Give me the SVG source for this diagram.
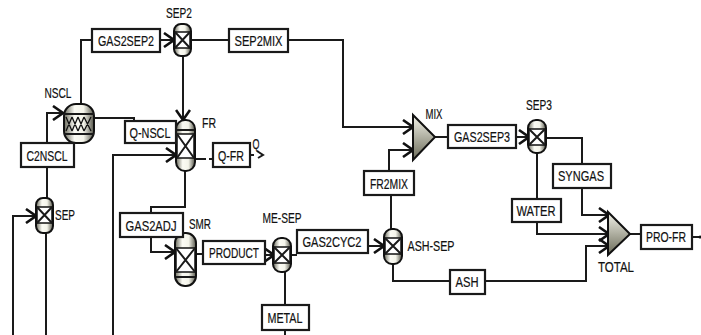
<svg xmlns="http://www.w3.org/2000/svg" width="701" height="335" viewBox="0 0 701 335">
<style>
.b{fill:#fff;stroke:#1a1a1a;stroke-width:2.2}
.l{fill:none;stroke:#1a1a1a;stroke-width:2}
.v{fill:url(#g);stroke:#111;stroke-width:2}
.m{fill:#fff;stroke:#111;stroke-width:1.5}
text{font-family:"Liberation Sans",Arial,sans-serif;font-size:14px;fill:#111;text-anchor:middle;stroke:#111;stroke-width:.2}
</style>
<defs>
<linearGradient id="g" x1="0" x2="1" y1="0" y2="0"><stop offset="0" stop-color="#6a6a5c"/><stop offset=".35" stop-color="#fbfbf4"/><stop offset=".65" stop-color="#f4f4ea"/><stop offset="1" stop-color="#55554a"/></linearGradient>
<linearGradient id="t" x1="0" x2="0" y1="0" y2="1"><stop offset="0" stop-color="#f4f4ea"/><stop offset="1" stop-color="#6a6a58"/></linearGradient>
<marker id="h" markerWidth="14" markerHeight="16" refX="12" refY="8" orient="auto" markerUnits="userSpaceOnUse"><path d="M2 1L12 8L2 15" fill="none" stroke="#111" stroke-width="2.6"/></marker>
</defs>
<rect width="701" height="335" fill="#fff"/>
<g id="connectors">
<path class="l" d="M81 104V40H92"/>
<path class="l" marker-end="url(#h)" d="M160 40H174"/>
<path class="l" d="M191 40H229"/>
<path class="l" marker-end="url(#h)" d="M288 40H343V127H413"/>
<path class="l" marker-end="url(#h)" d="M183 56V120"/>
<path class="l" marker-end="url(#h)" d="M47 143V113H63"/>
<path class="l" d="M47 167V199"/>
<path class="l" marker-end="url(#h)" d="M13 335V216H36"/>
<path class="l" d="M46 233V335"/>
<path class="l" d="M94 118H134V121"/>
<path class="l" marker-end="url(#h)" d="M113 335V155H176"/>
<path class="l" d="M195 159H206M209 159H213"/>
<path class="l" d="M250 155H254"/>
<path class="l" d="M257 151L263 155L258 158"/>
<path class="l" d="M185 171V207H151V213"/>
<path class="l" marker-end="url(#h)" d="M151 237V252H175"/>
<path class="l" d="M196 254H203"/>
<path class="l" marker-end="url(#h)" d="M265 255H274"/>
<path class="l" d="M291 255H297"/>
<path class="l" d="M285 272V305M285 330V335"/>
<path class="l" marker-end="url(#h)" d="M368 246H384"/>
<path class="l" d="M391 229V195"/>
<path class="l" marker-end="url(#h)" d="M389 171V150H413"/>
<path class="l" d="M435 137H448"/>
<path class="l" marker-end="url(#h)" d="M516 137H529"/>
<path class="l" d="M546 138H582V164"/>
<path class="l" marker-end="url(#h)" d="M582 188V215H609"/>
<path class="l" d="M537 153V199"/>
<path class="l" marker-end="url(#h)" d="M537 222V234H609"/>
<path class="l" d="M393 264V281H450"/>
<path class="l" marker-end="url(#h)" d="M485 281H586V246H609"/>
<path class="l" d="M630 234H641"/>
<path class="l" d="M692 237H700"/>
<circle cx="700" cy="237" r="1.5" fill="#111"/>
</g>
<g id="NSCL"><rect class="v" x="64" y="104" width="30" height="39" rx="12"/><path class="l" d="M64 114H94M64 134H94"/><path d="M66 117L72 131M72 117L66 131M72 117L78 131M78 117L72 131M78 117L84 131M84 117L78 131M84 117L91 131M91 117L84 131" stroke="#111" stroke-width="1.3" fill="none"/><text x="58" y="98" textLength="27" lengthAdjust="spacingAndGlyphs">NSCL</text></g>
<g id="SEP2"><rect class="v" x="174" y="24" width="17" height="32" rx="7"/><rect class="m" x="175" y="32" width="15" height="16"/><path class="l" d="M175 32L190 48M190 32L175 48"/><text x="179" y="18" textLength="26" lengthAdjust="spacingAndGlyphs">SEP2</text></g>
<g id="FR"><rect class="v" x="176" y="120" width="19" height="51" rx="9"/><rect class="m" x="177" y="134" width="17" height="24"/><path class="l" d="M177 134L194 158M194 134L177 158M177 130H194"/><text x="209" y="128" textLength="14" lengthAdjust="spacingAndGlyphs">FR</text></g>
<g id="SEP"><rect class="v" x="36" y="198" width="17" height="35" rx="7"/><rect class="m" x="37" y="207" width="15" height="16"/><path class="l" d="M37 207L52 223M52 207L37 223"/><text x="65" y="220" textLength="20" lengthAdjust="spacingAndGlyphs">SEP</text></g>
<g id="SMR"><rect class="v" x="175" y="233" width="21" height="53" rx="10"/><rect class="m" x="176" y="248" width="19" height="24"/><path class="l" d="M176 248L195 272M195 248L176 272M176 277H195"/><text x="200" y="229" textLength="22" lengthAdjust="spacingAndGlyphs">SMR</text></g>
<g id="ME-SEP"><rect class="v" x="273" y="238" width="18" height="34" rx="8"/><rect class="m" x="274" y="247" width="16" height="16"/><path class="l" d="M274 247L290 263M290 247L274 263"/><text x="282" y="223" textLength="39" lengthAdjust="spacingAndGlyphs">ME-SEP</text></g>
<g id="ASH-SEP"><rect class="v" x="384" y="229" width="18" height="35" rx="8"/><rect class="m" x="385" y="238" width="16" height="16"/><path class="l" d="M385 238L401 254M401 238L385 254"/><text x="431" y="251" textLength="47" lengthAdjust="spacingAndGlyphs">ASH-SEP</text></g>
<g id="MIX"><path d="M413 115V160L435 137Z" fill="url(#t)" stroke="#111" stroke-width="2"/><text x="434" y="119" textLength="17" lengthAdjust="spacingAndGlyphs">MIX</text></g>
<g id="SEP3"><rect class="v" x="528" y="120" width="18" height="33" rx="8"/><rect class="m" x="529" y="129" width="16" height="16"/><path class="l" d="M529 129L545 145M545 129L529 145"/><text x="539" y="110" textLength="26" lengthAdjust="spacingAndGlyphs">SEP3</text></g>
<g id="TOTAL"><path d="M608 212V255L630 234Z" fill="url(#t)" stroke="#111" stroke-width="2"/><text x="616" y="272" textLength="36" lengthAdjust="spacingAndGlyphs">TOTAL</text></g>
<g id="S-GAS2SEP2"><rect class="b" x="92" y="29" width="68" height="23"/><text x="126" y="46" textLength="56" lengthAdjust="spacingAndGlyphs">GAS2SEP2</text></g>
<g id="S-SEP2MIX"><rect class="b" x="229" y="29" width="59" height="23"/><text x="258.500" y="46" textLength="48" lengthAdjust="spacingAndGlyphs">SEP2MIX</text></g>
<g id="S-C2NSCL"><rect class="b" x="21" y="143" width="53" height="24"/><text x="47" y="161" textLength="41" lengthAdjust="spacingAndGlyphs">C2NSCL</text></g>
<g id="S-Q-NSCL"><rect class="b" x="125" y="121" width="51" height="22"/><text x="150" y="138" textLength="41" lengthAdjust="spacingAndGlyphs">Q-NSCL</text></g>
<g id="S-Q-FR"><rect class="b" x="213" y="143" width="37" height="24"/><text x="231" y="161" textLength="26" lengthAdjust="spacingAndGlyphs">Q-FR</text></g>
<text x="256" y="149" textLength="7" lengthAdjust="spacingAndGlyphs">Q</text>
<g id="S-GAS2ADJ"><rect class="b" x="120" y="213" width="63" height="24"/><text x="151" y="231" textLength="51" lengthAdjust="spacingAndGlyphs">GAS2ADJ</text></g>
<g id="S-PRODUCT"><rect class="b" x="203" y="241" width="62" height="23"/><text x="234" y="258" textLength="50" lengthAdjust="spacingAndGlyphs">PRODUCT</text></g>
<g id="S-GAS2CYC2"><rect class="b" x="297" y="230" width="71" height="23"/><text x="332" y="247" textLength="59" lengthAdjust="spacingAndGlyphs">GAS2CYC2</text></g>
<g id="S-METAL"><rect class="b" x="262" y="305" width="47" height="25"/><text x="285" y="323" textLength="35" lengthAdjust="spacingAndGlyphs">METAL</text></g>
<g id="S-FR2MIX"><rect class="b" x="364" y="171" width="50" height="24"/><text x="389" y="189" textLength="38" lengthAdjust="spacingAndGlyphs">FR2MIX</text></g>
<g id="S-GAS2SEP3"><rect class="b" x="448" y="125" width="68" height="23"/><text x="482" y="142" textLength="56" lengthAdjust="spacingAndGlyphs">GAS2SEP3</text></g>
<g id="S-SYNGAS"><rect class="b" x="553" y="164" width="58" height="24"/><text x="581" y="181" textLength="46" lengthAdjust="spacingAndGlyphs">SYNGAS</text></g>
<g id="S-WATER"><rect class="b" x="512" y="199" width="49" height="23"/><text x="536" y="216" textLength="39" lengthAdjust="spacingAndGlyphs">WATER</text></g>
<g id="S-ASH"><rect class="b" x="450" y="270" width="35" height="24"/><text x="467" y="287" textLength="23" lengthAdjust="spacingAndGlyphs">ASH</text></g>
<g id="S-PRO-FR"><rect class="b" x="641" y="225" width="51" height="24"/><text x="666" y="242" textLength="40" lengthAdjust="spacingAndGlyphs">PRO-FR</text></g>
</svg>
